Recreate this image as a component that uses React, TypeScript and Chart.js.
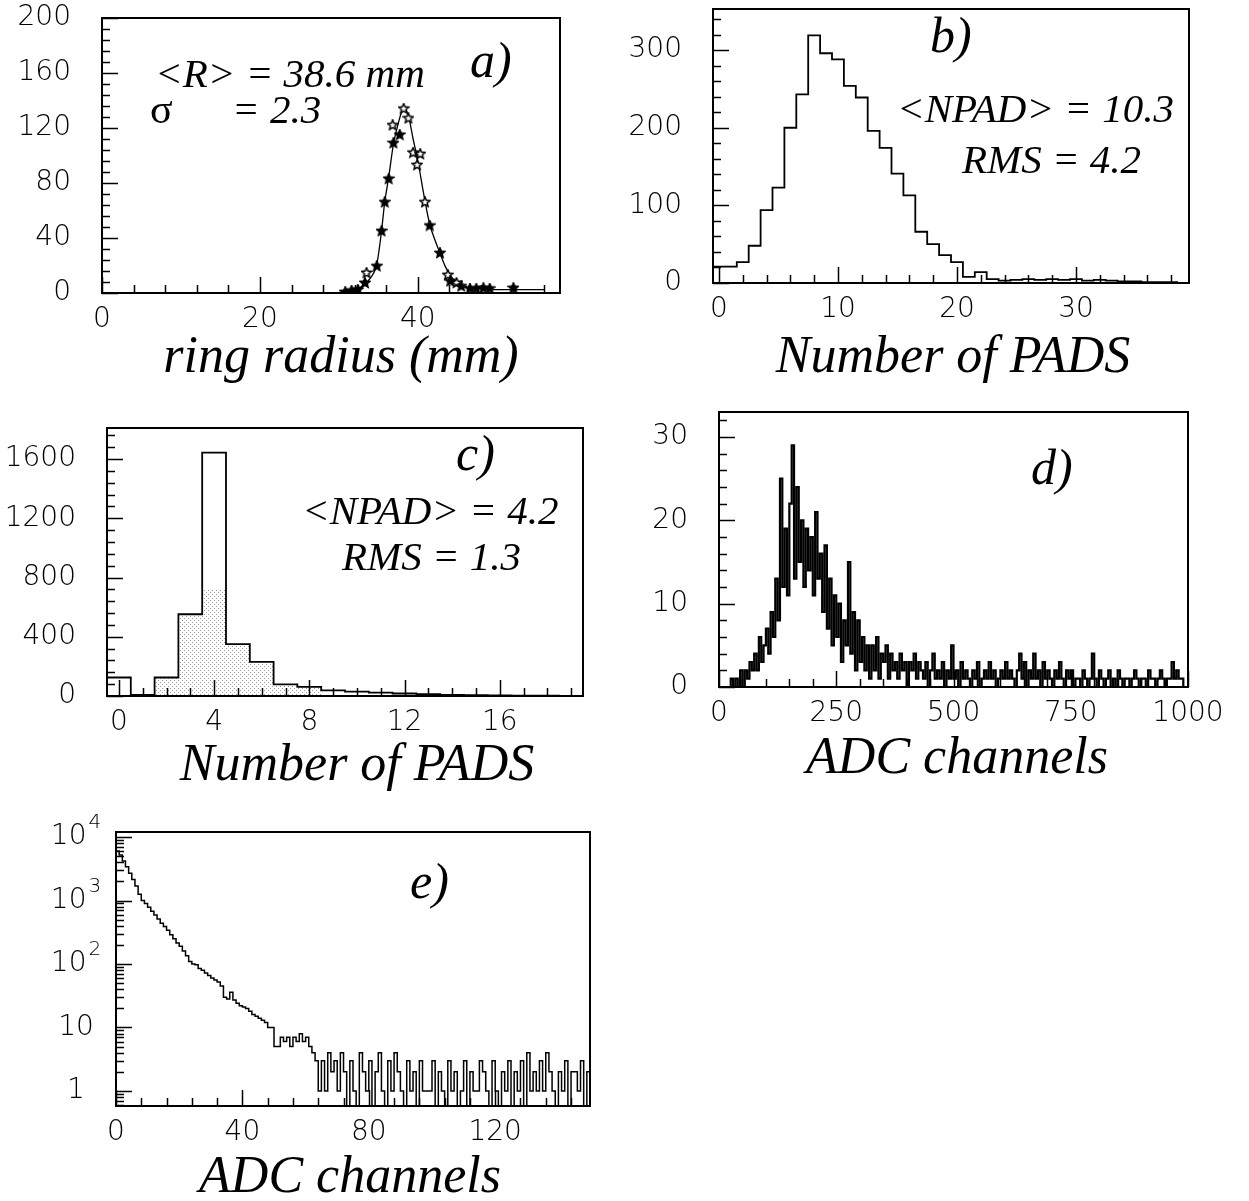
import React, { useEffect, useRef } from 'react';
import { Chart, registerables } from 'chart.js';

Chart.register(...registerables);

// ---------------- data ----------------
// a) ring radius distribution (mm)
const ringCurveX = [30, 31, 32, 33, 34, 34.8, 35.4, 35.8, 36.3, 36.9, 37.5, 38.2, 38.8, 39.4, 40.0, 40.9, 41.5, 42.2, 42.8, 43.5, 44.2, 45, 46, 47, 48, 50, 53, 56];
const ringCurveY = [0.5, 1.2, 2.5, 5, 11, 21, 45, 66, 84, 108, 123, 134, 129, 112, 96, 67, 50, 38, 29, 19, 12, 7, 4.5, 3.5, 3, 2.5, 2.5, 2.5];
const ringFilledX = [30.8, 31.6, 32.4, 33.3, 34.8, 35.4, 35.8, 36.3, 36.9, 37.7, 41.5, 42.8, 44.1, 45.5, 46.6, 47.4, 48.3, 49.1, 52.1];
const ringFilledY = [0.7, 1.7, 2.4, 7.3, 19.5, 45, 66, 83, 109, 115, 49, 29, 8.5, 4.9, 3.2, 3.2, 3.6, 3.2, 3.6];
const ringOpenX = [33.5, 36.8, 38.2, 38.8, 39.4, 39.9, 40.3, 40.9, 43.8, 44.9];
const ringOpenY = [14.6, 122, 134, 127, 102, 93, 101, 66, 13, 7.3];
const ringXLabels = [0, 20, 40];
const ringYLabels = [0, 40, 80, 120, 160, 200];

// b) number of pads per ring (bins centred on 0..39)
const padsCounts = [21, 21, 27, 48, 94, 123, 200, 243, 319, 296, 288, 254, 239, 196, 174, 141, 113, 66, 50, 36, 27, 8, 14, 5, 3, 4, 5, 4, 5, 4, 5, 3, 4, 3, 2, 2, 1, 1, 1, 0];
const padsXLabels = [0, 10, 20, 30];
const padsYLabels = [0, 100, 200, 300];

// c) number of pads per cluster (bins centred on 0..19)
const clusterCounts = [125, 8, 125, 552, 1644, 351, 230, 79, 61, 38, 29, 23, 17, 12, 8, 5, 4, 3, 2, 1];
const clusterShaded = [0, 0, 120, 540, 716, 340, 220, 75, 58, 0, 0, 0, 0, 0, 0, 0, 0, 0, 0, 0];
const clusterXLabels = [0, 4, 8, 12, 16];
const clusterYLabels = [0, 400, 800, 1200, 1600];

// d) ADC spectrum, 5-channel bins from 0 to 1000
const adcCounts = [
  0, 0, 0, 0, 0, 1, 0, 1, 0, 2,
  0, 2, 1, 3, 2, 4, 2, 6, 3, 5,
  7, 4, 9, 6, 13, 8, 25, 12, 19, 11,
  22, 29, 13, 24, 15, 20, 12, 19, 14, 18,
  11, 21, 13, 16, 9, 17, 7, 13, 5, 11,
  6, 10, 3, 8, 5, 15, 4, 9, 2, 8,
  3, 6, 2, 5, 1, 5, 2, 6, 1, 4,
  3, 5, 1, 4, 2, 3, 1, 4, 2, 3,
  0, 3, 2, 4, 1, 3, 2, 1, 3, 0,
  2, 4, 1, 2, 1, 3, 0, 2, 1, 5,
  1, 2, 0, 3, 1, 2, 1, 0, 2, 1,
  3, 0, 1, 2, 1, 3, 1, 2, 0, 1,
  2, 1, 3, 1, 2, 1, 0, 2, 4, 1,
  3, 0, 2, 1, 4, 1, 2, 0, 3, 1,
  2, 1, 0, 2, 1, 3, 1, 0, 2, 1,
  2, 0, 1, 1, 0, 2, 1, 0, 1, 4,
  1, 0, 2, 1, 0, 1, 2, 0, 1, 0,
  2, 1, 0, 1, 1, 0, 1, 2, 1, 0,
  1, 1, 0, 2, 1, 1, 0, 1, 2, 1,
  0, 1, 1, 3, 1, 2, 1, 1, 0, 0,
];
const adcXLabels = [0, 250, 500, 750, 1000];
const adcYLabels = [0, 10, 20, 30];

// e) ADC spectrum, log scale, 1-channel bins 0..149
const adcLogCounts = [
  6000, 5200, 4200, 3400, 2700, 2150, 1700, 1250, 1000, 900,
  780, 680, 590, 510, 440, 390, 340, 290, 250, 215,
  190, 160, 135, 110, 100, 97, 85, 80, 72, 66,
  60, 56, 52, 45, 30, 28, 36, 27, 24, 22,
  21, 20, 18, 16, 15, 14, 13, 12, 10, 10,
  5, 5, 7, 6, 7, 5, 7, 6, 8, 6,
  7, 5, 4, 3, 1, 3, 1, 4, 2, 3,
  1, 4, 2, 0, 3, 1, 0, 4, 2, 1,
  3, 0, 2, 4, 1, 0, 3, 1, 4, 2,
  1, 0, 3, 1, 2, 0, 3, 1, 1, 1,
  3, 0, 2, 1, 0, 3, 1, 2, 0, 1,
  3, 0, 2, 1, 1, 3, 2, 1, 0, 3,
  1, 0, 2, 1, 3, 0, 2, 1, 3, 0,
  4, 1, 2, 1, 3, 1, 4, 2, 1, 0,
  2, 1, 3, 0, 2, 2, 1, 3, 0, 2,
];
const adcLogXLabels = [0, 40, 80, 120];
const adcLogYLabels = [
  { value: 1, base: '1', sup: '' },
  { value: 10, base: '10', sup: '' },
  { value: 100, base: '10', sup: '2' },
  { value: 1000, base: '10', sup: '3' },
  { value: 10000, base: '10', sup: '4' },
];

// ---------------- styles ----------------
const TICK_FONT = { family: "'DejaVu Sans', sans-serif", size: 28, weight: '200' as any };
const TITLE_FONT = "italic 52px 'Liberation Serif', 'Times New Roman', serif";
const NOTE_FONT = "italic 41px 'Liberation Serif', 'Times New Roman', serif";
const LETTER_FONT = "italic 50px 'Liberation Serif', 'Times New Roman', serif";
const SIGMA_FONT = "42px 'Liberation Serif', 'Times New Roman', serif";

type Axis = { type?: 'linear' | 'logarithmic'; min: number; max: number; labels: number[]; minor: number; major: number; hideLabels?: boolean };
type Txt = { text: string; x: number; y: number; font: string; align?: CanvasTextAlign };
type Panel = {
  id: string;
  frame: { l: number; t: number; r: number; b: number };
  pad: { left: number; right: number; top: number; bottom: number };
  x: Axis;
  y: Axis;
  texts: Txt[];
  datasets: () => any[];
  logLabels?: { value: number; base: string; sup: string }[];
};

function xy(xs: number[], ys: number[]) {
  return xs.map((x, i) => ({ x, y: ys[i] }));
}

function stepPoints(first: number, width: number, counts: number[], floor = 0) {
  const pts: { x: number; y: number }[] = [{ x: first, y: floor }];
  counts.forEach((c, i) => pts.push({ x: first + i * width, y: c > 0 ? c : floor }));
  pts.push({ x: first + counts.length * width, y: floor });
  return pts;
}

function makeStar(filled: boolean) {
  const size = 12;
  const c = document.createElement('canvas');
  c.width = size;
  c.height = size;
  const ctx = c.getContext('2d')!;
  const cx = size / 2, cy = size / 2, R = size / 2 - 0.8, r = R * 0.45;
  ctx.beginPath();
  for (let i = 0; i < 10; i++) {
    const a = -Math.PI / 2 + (i * Math.PI) / 5;
    const rad = i % 2 === 0 ? R : r;
    ctx.lineTo(cx + rad * Math.cos(a), cy + rad * Math.sin(a));
  }
  ctx.closePath();
  ctx.fillStyle = filled ? '#000' : '#fff';
  ctx.fill();
  ctx.lineWidth = 1.5;
  ctx.strokeStyle = '#000';
  ctx.stroke();
  return c;
}

function makeStipple() {
  const c = document.createElement('canvas');
  c.width = 4;
  c.height = 4;
  const ctx = c.getContext('2d')!;
  ctx.fillStyle = '#9a9a9a';
  ctx.fillRect(0, 0, 1, 1);
  ctx.fillRect(2, 2, 1, 1);
  return ctx.createPattern(c, 'repeat');
}

const histLine = (data: any[], width = 1.8) => ({
  data,
  stepped: true,
  borderColor: '#000',
  borderWidth: width,
  pointRadius: 0,
  fill: false,
});

const PANELS: Panel[] = [
  {
    id: 'a',
    frame: { l: 102, t: 18, r: 560, b: 293 },
    pad: { left: 100, right: 30, top: 18, bottom: 102 },
    x: { min: 0, max: 58, labels: ringXLabels, minor: 4, major: 20 },
    y: { min: 0, max: 200, labels: ringYLabels, minor: 8, major: 40 },
    texts: [
      { text: '<R> = 38.6 mm', x: 155, y: 87, font: NOTE_FONT },
      { text: 'σ', x: 150, y: 123, font: SIGMA_FONT },
      { text: '= 2.3', x: 232, y: 123, font: NOTE_FONT },
      { text: 'a)', x: 470, y: 77, font: LETTER_FONT },
      { text: 'ring radius (mm)', x: 341, y: 372, font: TITLE_FONT, align: 'center' },
    ],
    datasets: () => [
      { data: xy(ringFilledX, ringFilledY), showLine: false, pointStyle: makeStar(true), pointRadius: 6 },
      { data: xy(ringOpenX, ringOpenY), showLine: false, pointStyle: makeStar(false), pointRadius: 6 },
      { data: xy(ringCurveX, ringCurveY), borderColor: '#000', borderWidth: 1.3, pointRadius: 0, cubicInterpolationMode: 'monotone', fill: false },
    ],
  },
  {
    id: 'b',
    frame: { l: 713, t: 9, r: 1189, b: 283 },
    pad: { left: 100, right: 40, top: 9, bottom: 112 },
    x: { min: -0.5, max: 39.5, labels: padsXLabels, minor: 2, major: 10 },
    y: { min: 0, max: 353, labels: padsYLabels, minor: 20, major: 100 },
    texts: [
      { text: 'b)', x: 930, y: 52, font: LETTER_FONT },
      { text: '<NPAD> = 10.3', x: 897, y: 122, font: NOTE_FONT },
      { text: 'RMS = 4.2', x: 962, y: 173, font: NOTE_FONT },
      { text: 'Number of PADS', x: 953, y: 372, font: TITLE_FONT, align: 'center' },
    ],
    datasets: () => [histLine(stepPoints(-0.5, 1, padsCounts))],
  },
  {
    id: 'c',
    frame: { l: 107, t: 428, r: 583, b: 696 },
    pad: { left: 105, right: 30, top: 20, bottom: 107 },
    x: { min: -0.5, max: 19.5, labels: clusterXLabels, minor: 1, major: 4 },
    y: { min: 0, max: 1810, labels: clusterYLabels, minor: 80, major: 400 },
    texts: [
      { text: 'c)', x: 456, y: 470, font: LETTER_FONT },
      { text: '<NPAD> = 4.2', x: 302, y: 524, font: NOTE_FONT },
      { text: 'RMS = 1.3', x: 342, y: 570, font: NOTE_FONT },
      { text: 'Number of PADS', x: 357, y: 780, font: TITLE_FONT, align: 'center' },
    ],
    datasets: () => [
      histLine(stepPoints(-0.5, 1, clusterCounts)),
      { data: stepPoints(-0.5, 1, clusterShaded), stepped: true, borderWidth: 0, borderColor: 'rgba(0,0,0,0)', pointRadius: 0, fill: 'origin', backgroundColor: makeStipple() },
    ],
  },
  {
    id: 'd',
    frame: { l: 719, t: 412, r: 1188, b: 687 },
    pad: { left: 100, right: 60, top: 20, bottom: 109 },
    x: { min: 0, max: 1000, labels: adcXLabels, minor: 50, major: 250 },
    y: { min: 0, max: 33, labels: adcYLabels, minor: 2, major: 10 },
    texts: [
      { text: 'd)', x: 1031, y: 484, font: LETTER_FONT },
      { text: 'ADC channels', x: 957, y: 773, font: TITLE_FONT, align: 'center' },
    ],
    datasets: () => [histLine(stepPoints(0, 5, adcCounts), 2.2)],
  },
  {
    id: 'e',
    frame: { l: 116, t: 832, r: 590, b: 1106 },
    pad: { left: 114, right: 30, top: 22, bottom: 109 },
    x: { min: 0, max: 150, labels: adcLogXLabels, minor: 8, major: 40 },
    y: { type: 'logarithmic', min: 0.58, max: 12000, labels: [1, 10, 100, 1000, 10000], minor: 0, major: 0, hideLabels: true },
    logLabels: adcLogYLabels,
    texts: [
      { text: 'e)', x: 410, y: 898, font: LETTER_FONT },
      { text: 'ADC channels', x: 350, y: 1192, font: TITLE_FONT, align: 'center' },
    ],
    datasets: () => [histLine(stepPoints(0, 1, adcLogCounts, 0.1), 1.5)],
  },
];

function buildChart(canvas: HTMLCanvasElement, p: Panel) {
  const ox = p.frame.l - p.pad.left;
  const oy = p.frame.t - p.pad.top;

  const axisOpts = (ax: Axis, horizontal: boolean) => ({
    type: ax.type ?? 'linear',
    position: horizontal ? 'bottom' : 'left',
    min: ax.min,
    max: ax.max,
    grid: { display: false, drawTicks: false },
    border: { display: false },
    ticks: {
      display: !ax.hideLabels,
      autoSkip: false,
      maxRotation: 0,
      minRotation: 0,
      padding: horizontal ? 10 : 31,
      color: '#000',
      font: TICK_FONT,
      callback: (v: any) => String(v),
    },
    afterBuildTicks: (s: any) => {
      s.ticks = ax.labels.map((v) => ({ value: v }));
    },
    afterFit: (s: any) => {
      if (horizontal) s.height = p.pad.bottom;
      else s.width = p.pad.left;
      s.paddingTop = 0;
      s.paddingBottom = 0;
      s.paddingLeft = 0;
      s.paddingRight = 0;
    },
  });

  const deco = {
    id: 'deco_' + p.id,
    afterDraw(chart: any) {
      const ctx: CanvasRenderingContext2D = chart.ctx;
      const ca = chart.chartArea;
      const xs = chart.scales.x;
      const ys = chart.scales.y;
      const MAJ = 16, MIN = 8;
      ctx.save();
      ctx.strokeStyle = '#000';
      ctx.lineWidth = 1.5;
      ctx.beginPath();
      // x ticks (inward)
      for (let k = Math.ceil(p.x.min / p.x.minor - 1e-9); k * p.x.minor <= p.x.max + 1e-9; k++) {
        const v = k * p.x.minor;
        const isMaj = Math.abs(v / p.x.major - Math.round(v / p.x.major)) < 1e-6;
        const px = Math.round(xs.getPixelForValue(v)) + 0.5;
        ctx.moveTo(px, ca.bottom);
        ctx.lineTo(px, ca.bottom - (isMaj ? MAJ : MIN));
      }
      // y ticks (inward)
      if (p.y.type === 'logarithmic') {
        for (let d = -1; d <= 4; d++) {
          for (let m = 1; m <= 9; m++) {
            const v = m * Math.pow(10, d);
            if (v < p.y.min || v > p.y.max) continue;
            const py = Math.round(ys.getPixelForValue(v)) + 0.5;
            ctx.moveTo(ca.left, py);
            ctx.lineTo(ca.left + (m === 1 ? MAJ : MIN), py);
          }
        }
      } else {
        for (let k = Math.ceil(p.y.min / p.y.minor - 1e-9); k * p.y.minor <= p.y.max + 1e-9; k++) {
          const v = k * p.y.minor;
          const isMaj = Math.abs(v / p.y.major - Math.round(v / p.y.major)) < 1e-6;
          const py = Math.round(ys.getPixelForValue(v)) + 0.5;
          ctx.moveTo(ca.left, py);
          ctx.lineTo(ca.left + (isMaj ? MAJ : MIN), py);
        }
      }
      ctx.stroke();
      // frame
      ctx.lineWidth = 2;
      ctx.strokeRect(ca.left, ca.top, ca.right - ca.left, ca.bottom - ca.top);
      // texts
      ctx.fillStyle = '#000';
      ctx.textBaseline = 'alphabetic';
      for (const t of p.texts) {
        ctx.font = t.font;
        ctx.textAlign = t.align ?? 'left';
        ctx.fillText(t.text, t.x - ox, t.y - oy);
      }
      // log-axis labels with superscripts
      if (p.logLabels) {
        const baseFont = `200 28px 'DejaVu Sans', sans-serif`;
        const supFont = `200 20px 'DejaVu Sans', sans-serif`;
        const cx = p.frame.l - 40 - ox;
        ctx.textBaseline = 'middle';
        ctx.textAlign = 'left';
        for (const l of p.logLabels) {
          const py = ys.getPixelForValue(l.value);
          ctx.font = baseFont;
          const bw = ctx.measureText(l.base).width;
          ctx.font = supFont;
          const sw = l.sup ? ctx.measureText(l.sup).width + 2 : 0;
          const x0 = cx - (bw + sw) / 2;
          ctx.font = baseFont;
          ctx.fillText(l.base, x0, py);
          if (l.sup) {
            ctx.font = supFont;
            ctx.fillText(l.sup, x0 + bw + 2, py - 14);
          }
        }
      }
      ctx.restore();
    },
  };

  return new Chart(canvas, {
    type: 'line',
    data: { datasets: p.datasets() },
    options: {
      animation: false,
      responsive: false,
      devicePixelRatio: 1,
      events: [],
      layout: { padding: { left: 0, right: p.pad.right, top: p.pad.top, bottom: 0 }, autoPadding: false } as any,
      plugins: { legend: { display: false }, tooltip: { enabled: false } },
      scales: { x: axisOpts(p.x, true) as any, y: axisOpts(p.y, false) as any },
    },
    plugins: [deco],
  });
}

export default function App() {
  const canvasRefs = useRef<(HTMLCanvasElement | null)[]>([]);

  useEffect(() => {
    const charts = PANELS.map((p, i) => buildChart(canvasRefs.current[i]!, p));
    return () => charts.forEach((c) => c.destroy());
  }, []);

  return (
    <div style={{ position: 'absolute', left: 0, top: 0, width: 1249, height: 1201, background: '#fff', overflow: 'hidden' }}>
      {PANELS.map((p, i) => {
        const w = p.frame.r - p.frame.l + p.pad.left + p.pad.right;
        const h = p.frame.b - p.frame.t + p.pad.top + p.pad.bottom;
        return (
          <canvas
            key={p.id}
            ref={(el) => {
              canvasRefs.current[i] = el;
            }}
            width={w}
            height={h}
            style={{ position: 'absolute', left: p.frame.l - p.pad.left, top: p.frame.t - p.pad.top, width: w, height: h }}
          />
        );
      })}
    </div>
  );
}
